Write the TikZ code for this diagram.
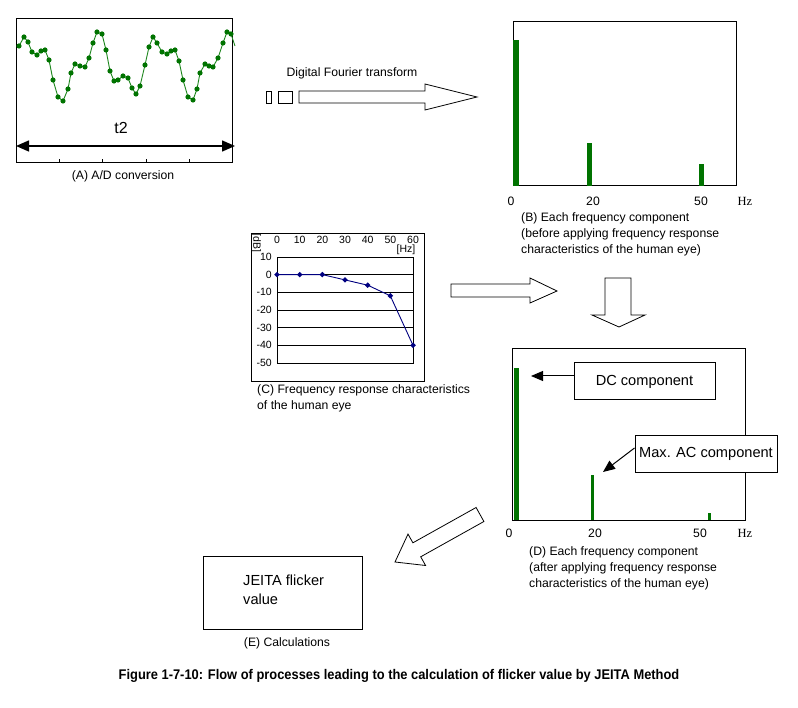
\documentclass[tikz,border=0pt]{standalone}
\usepackage{fontspec}
\setmainfont{Liberation Sans}
\newfontfamily\hzfont{Liberation Serif}
\usetikzlibrary{arrows.meta,calc}
\definecolor{wgreen}{RGB}{30,135,30}
\definecolor{dgreen}{RGB}{0,115,0}
\definecolor{navyc}{RGB}{0,0,128}
\begin{document}
\begin{tikzpicture}[x=1pt,y=-1pt,
  box/.style={draw, line width=1pt, inner sep=0pt},
  lbl/.style={font=\fontsize{12.2}{16}\selectfont, inner sep=0pt},
  small/.style={font=\fontsize{10.5}{11}\selectfont, inner sep=0pt},
  big/.style={font=\fontsize{14.6}{19}\selectfont},
  blockarrow/.style={draw, line width=0.8pt, fill=white, line join=miter},
  pointer/.style={line width=1pt, -{Triangle[length=12pt,width=10pt]}},
  bar/.style={fill=dgreen}]
\useasboundingbox (0,0) rectangle (798,708);
\fill[white] (0,0) rectangle (798,708);

% ---------- (A) ----------
\node[box, minimum width=216pt, minimum height=144pt] (A) at (124,91) {};
\foreach \tx in {59,102,146,189} \draw[line width=0.8pt] (\tx,163) -- (\tx,159);
\draw[wgreen, line width=0.9pt] plot coordinates {(19,46) (24,37) (28,42) (32,52) (37,55) (41,51) (45,50) (49,60) (53,80) (58,97) (63,101) (68,89) (71,73) (75,64) (80,66) (85,67) (89,58) (93,43) (97,32) (102,34) (106,50) (110,71) (114,81) (118,80) (123,76) (128,78) (132,88) (136,94) (140,86) (145,65) (149,47) (153,37) (157,43) (162,52) (167,54) (171,51) (175,50) (179,61) (183,80) (188,97) (193,100) (197,89) (200,73) (205,64) (209,66) (213,67) (218,58) (223,43) (227,32) (231,34) (235,46)};
\foreach \px/\py in {19/46,24/37,28/42,32/52,37/55,41/51,45/50,49/60,53/80,58/97,63/101,68/89,71/73,75/64,80/66,85/67,89/58,93/43,97/32,102/34,106/50,110/71,114/81,118/80,123/76,128/78,132/88,136/94,140/86,145/65,149/47,153/37,157/43,162/52,167/54,171/51,175/50,179/61,183/80,188/97,193/100,197/89,200/73,205/64,209/66,213/67,218/58,223/43,227/32,231/34}
  \fill[dgreen] (\px,\py) circle[radius=2.6pt];
\node[font=\fontsize{16}{18}\selectfont, inner sep=0pt] (t2) at (121,128) {t2};
\coordinate (t2l) at (16,146);
\coordinate (t2r) at (235,146);
\draw[line width=1.4pt, {Triangle[length=13pt,width=11pt]}-{Triangle[length=13pt,width=11pt]}] (t2l) -- (t2r);
\node[lbl] (capA) at (123,176) {(A) A/D conversion};

% ---------- DFT arrow ----------
\node[lbl] (dft) at (352,73) {Digital Fourier transform};
\draw[blockarrow] (266,91) rectangle (271,103);
\draw[blockarrow] (278,91) rectangle (292,103);
\draw[blockarrow] (299,91) -- (425,91) -- (425,84) -- (477,97) -- (425,110) -- (425,103) -- (299,103) -- cycle;

% ---------- (B) ----------
\node[box, minimum width=223pt, minimum height=164pt] (B) at (624.5,104) {};
\fill[bar] (513,40) rectangle (519,186);
\fill[bar] (587,143) rectangle (592,186);
\fill[bar] (699,164) rectangle (704,186);
\node[lbl] (b0) at (511,201) {0};
\node[lbl] (b20) at (593,201) {20};
\node[lbl] (b50) at (701,201) {50};
\node[lbl, font=\hzfont\fontsize{12.5}{13}\selectfont] (bhz) at (745,201) {Hz};
\node[lbl, align=left, anchor=north west] (capB) at (521,212) {(B) Each frequency component\\(before applying frequency response\\characteristics of the human eye)};

% ---------- (C) ----------
\node[box, minimum width=173pt, minimum height=148pt] (C) at (337.5,308) {};
\draw[line width=0.8pt] (277,257) rectangle (413,363);
\foreach \db in {0,-10,-20,-30,-40}
  \draw[line width=0.8pt] (277,{274.6-\db*1.767}) -- (413,{274.6-\db*1.767});
\foreach \f in {0,10,20,30,40,50,60}
  \node[small] at ({277+\f*2.267},240) {\f};
\node[small] (hzC) at (406,250) {[Hz]};
\node[small, rotate=-90] (dbC) at (256,243) {[dB]};
\foreach \db in {10,0,-10,-20,-30,-40,-50}
  \node[small, anchor=east] at (272,{274.6-\db*1.767}) {\db};
\draw[navyc, line width=0.9pt] plot coordinates {(277,274.6) (299.7,274.6) (322.3,274.6) (345,279.9) (367.7,285.2) (390.3,295.8) (413,345.3)};
\foreach \px/\py in {277/274.6,299.7/274.6,322.3/274.6,345/279.9,367.7/285.2,390.3/295.8,413/345.3}
  \fill[navyc] (\px,\py-2.8) -- (\px+2.8,\py) -- (\px,\py+2.8) -- (\px-2.8,\py) -- cycle;
\node[lbl, align=left, anchor=north west] (capC) at (257,384) {(C) Frequency response characteristics\\of the human eye};

% ---------- block arrows ----------
\draw[blockarrow] (451,284) -- (530,284) -- (530,278) -- (557,291) -- (530,303) -- (530,297) -- (451,297) -- cycle;
\draw[blockarrow] (605,278) -- (631,278) -- (631,315) -- (645,315) -- (619,327) -- (592,315) -- (605,315) -- cycle;
\draw[blockarrow] (476.1,507.5) -- (483.9,521.5) -- (420.7,556.8) -- (425.6,565.5) -- (395,562) -- (408.0,534.1) -- (412.9,542.8) -- cycle;

% ---------- (D) ----------
\node[box, minimum width=233pt, minimum height=171pt] (D) at (628.5,434.5) {};
\fill[bar] (514,368) rectangle (519,520);
\fill[bar] (591,475) rectangle (594,520);
\fill[bar] (708,513) rectangle (711,520);
\node[lbl] (d0) at (509,533) {0};
\node[lbl] (d20) at (595,533) {20};
\node[lbl] (d50) at (700,533) {50};
\node[lbl, font=\hzfont\fontsize{12.5}{13}\selectfont] (dhz) at (745,533) {Hz};
\node[lbl, align=left, anchor=north west] (capD) at (529,546) {(D) Each frequency component\\(after applying frequency response\\characteristics of the human eye)};
\node[box, big, fill=white, minimum width=141pt, minimum height=37pt] (DC) at (644.5,381.5) {DC component};
\coordinate (dctip) at (531,376);
\draw[pointer] (DC.west |- dctip) -- (dctip);
\node[box, big, fill=white, minimum width=142pt, minimum height=36pt] (AC) at (706,454) {Max. AC component};
\coordinate (actip) at (603,472);
\draw[pointer] ($(AC.west)+(0,-6)$) -- (actip);

% ---------- (E) ----------
\node[box, minimum width=159pt, minimum height=73pt] (E) at (282.5,592.5) {};
\node[big, align=left, anchor=west, inner sep=0pt] (Etext) at (243,590) {JEITA flicker\\value};
\node[lbl] (capE) at (287,643) {(E) Calculations};

% ---------- figure caption ----------
\node[inner sep=0pt, font=\bfseries\fontsize{14}{16}\selectfont] (fig) at (399,676) {\scalebox{0.92}[1]{Figure 1-7-10: Flow of processes leading to the calculation of flicker value by JEITA Method}};
\end{tikzpicture}
\end{document}
